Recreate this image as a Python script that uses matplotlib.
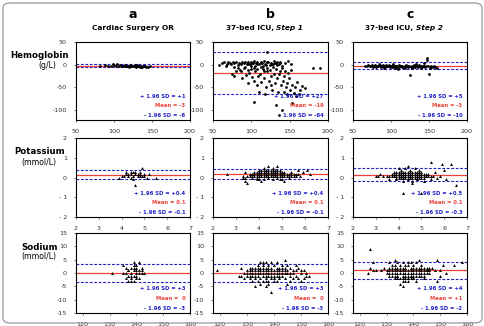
import matplotlib
matplotlib.use("Agg")
import matplotlib.pyplot as plt
from matplotlib.patches import FancyBboxPatch

# ---- data ----
# Hemoglobin (g/L): x = mean of methods, y = difference
hgb_a_x = [82, 88, 92, 96, 100, 103, 106, 108, 110, 112, 114, 116, 118, 120, 121, 123, 125, 126,
           128, 129, 131, 133, 135, 136, 138, 140, 142, 145, 147, 99, 104, 111, 119, 127, 134,
           115, 122, 130, 137, 141, 124, 132]
hgb_a_y = [-2, -1, -2, -3, -1, -2, -3, 0, -2, -4, -1, -3, -2, -5, -1, -3, -4, -2,
           0, -5, -3, -4, -2, -6, -3, -4, -5, -6, -3, 2, 1, -3, -4, -2, -5,
           -2, -2, -1, -5, -3, -3, -3]

hgb_b_x = [58, 62, 65, 68, 70, 72, 74, 76, 78, 80, 82, 84, 86, 88, 90, 92, 94, 96, 98, 100,
           102, 104, 106, 108, 110, 112, 114, 116, 118, 120, 122, 124, 126, 128, 130, 132, 134,
           136, 138, 140, 144, 148, 152,
           75, 78, 80, 85, 88, 90, 93, 95, 97, 99, 101, 103, 105, 107, 109, 111, 113, 115, 117,
           119, 121, 123, 125, 127, 129, 131, 133, 135, 137, 139, 141, 143, 145, 147, 149, 151,
           153, 155, 157, 160, 163, 166, 170, 158, 162,
           120, 180, 190, 103, 132, 136, 140, 153,
           92, 96, 100, 104, 108, 112, 116, 120, 124, 128, 132, 136, 140, 144, 148, 152,
           77, 83, 67, 86, 110, 118, 125, 142, 146,
           95, 101, 107, 113, 119, 125, 131, 137, 105, 115, 127, 133]
hgb_b_y = [0, 3, 5, 2, 7, 4, 1, 6, 3, 5, 0, 4, 2, 6, 3, 7, 1, 5, 2, 6,
           4, 8, 3, 5, 1, 6, 3, 9, 2, 5, 7, 0, 4, 2, 8, 3, 5,
           1, 6, -2, 4, 8, 1,
           -20, -25, -15, -12, -30, -8, -22, -40, -18, -10, -28, -35, -15, -45, -25, -20, -38, -10, -30,
           -50, -15, -35, -25, -55, -20, -40, -30, -60, -15, -45, -35, -25, -50, -40, -30, -55,
           -45, -62, -50, -38, -55, -48, -52, -70, -65,
           27, -8, -8, -82, -89, -111, -100, -84,
           -5, -12, -3, -8, -10, -6, -15, -8, -12, -5, -10, -20, -8, -15, -18, -12,
           -5, -8, -3, -15, -60, -65, -45, -60, -65,
           2, 4, 1, 3, 0, 2, 4, 3, -3, -2, 1, -1]

hgb_c_x = [66, 70, 74, 78, 82, 85, 88, 90, 92, 94, 96, 98, 100, 102, 104, 106, 108, 110, 112,
           114, 116, 118, 120, 122, 124, 126, 128, 130, 132, 134, 136, 138, 140, 142, 144,
           75, 80, 86, 91, 95, 99, 103, 107, 111, 115, 119, 123, 127, 131, 135, 139,
           84, 97, 109, 121, 133, 145, 152, 147, 148, 150, 125, 160, 143, 156,
           68, 72, 76, 79, 83, 87, 89, 93, 101, 105, 113, 117, 121, 129, 137, 141,
           146, 149, 151, 153, 155, 158]
hgb_c_y = [-2, -1, -3, -2, -4, -1, -3, -2, -5, -1, -3, -2, -4, -1, -6, -2, -3, -1, -4,
           -2, -5, -3, -1, -4, -2, -6, -3, -1, -4, -2, -5, -3, -2, -4, -3,
           0, -5, -4, -7, -3, -6, 1, -7, -5, -6, -8, -5, -7, -6, -4, -7,
           2, 0, -9, -2, 2, -5, -6, 15, 10, -20, -22, -8, 3, -4,
           -4, -2, -5, 0, -2, -5, 0, -3, -6, -3, -2, -6, -3, -5, -1, -6,
           -2, -4, -7, -3, -5, -6]

# Potassium (mmol/L)
k_a_x = [3.9, 4.0, 4.1, 4.2, 4.2, 4.3, 4.3, 4.4, 4.4, 4.5, 4.5, 4.5, 4.6, 4.6, 4.7, 4.7, 4.8,
         4.8, 4.9, 4.9, 5.0, 5.0, 5.1, 5.2, 4.6, 4.4, 4.8, 5.5]
k_a_y = [0.0, 0.1, 0.1, 0.2, 0.3, 0.2, 0.1, 0.3, 0.2, 0.1, 0.3, -0.1, 0.2, 0.3, 0.1, 0.2, 0.3,
         0.2, 0.5, 0.1, 0.2, 0.1, 0.0, 0.2, -0.4, 0.0, 0.1, 0.0]

k_b_x = [2.6, 3.3, 3.4, 3.5, 3.6, 3.7, 3.8, 3.9, 4.0, 4.1, 4.2, 4.3, 4.4, 4.5, 4.6, 4.7, 4.8, 4.9,
         5.0, 5.1, 5.2, 5.3, 5.4, 5.5, 5.6,
         3.6, 3.7, 3.8, 3.9, 4.0, 4.1, 4.2, 4.3, 4.4, 4.5, 4.6, 4.7, 4.8, 4.9, 5.0, 5.1, 5.2, 5.3,
         5.4, 5.5, 5.7,
         3.8, 3.9, 4.0, 4.1, 4.2, 4.3, 4.4, 4.5, 4.6, 4.7, 4.8, 4.9, 5.0, 5.1, 5.4,
         4.0, 4.1, 4.2, 4.3, 4.4, 4.5, 4.6, 4.7, 4.8, 4.9,
         4.2, 4.4, 4.6, 4.8,
         3.7, 3.9, 4.0, 4.2, 4.4, 4.6, 4.8, 5.0, 5.3, 5.6, 5.8,
         3.4, 3.5, 3.9, 4.1, 4.9, 5.1,
         3.3, 3.4, 6.1, 5.9, 5.7, 6.2]
k_b_y = [0.2, 0.1, 0.0, 0.1, 0.1, 0.1, 0.1, 0.1, 0.1, 0.1, 0.1, 0.1, 0.1, 0.1, 0.1, 0.1, 0.1, 0.1,
         0.1, 0.1, 0.1, 0.1, 0.1, 0.1, 0.1,
         0.2, 0.2, 0.2, 0.2, 0.2, 0.2, 0.2, 0.2, 0.2, 0.2, 0.2, 0.2, 0.2, 0.2, 0.2, 0.2, 0.2, 0.2,
         0.2, 0.2, 0.2,
         0.3, 0.3, 0.3, 0.3, 0.3, 0.3, 0.3, 0.3, 0.3, 0.3, 0.3, 0.3, 0.3, 0.3, 0.3,
         0.4, 0.4, 0.4, 0.4, 0.4, 0.4, 0.4, 0.4, 0.4, 0.4,
         0.5, 0.6, 0.5, 0.6,
         0.0, 0.0, -0.1, -0.1, 0.0, -0.1, 0.0, -0.1, 0.0, 0.2, 0.1,
         -0.2, -0.3, -0.1, -0.2, -0.1, -0.2,
         0.0, 0.3, 0.4, 0.3, 0.4, 0.2]

k_c_x = [3.0, 3.1, 3.2, 3.3, 3.5, 3.6, 3.7, 3.8, 3.9, 4.0, 4.1, 4.2, 4.3, 4.4, 4.5, 4.6, 4.7,
         4.8, 4.9, 5.0, 5.1, 5.2, 5.3, 5.4, 5.5,
         3.7, 3.8, 3.9, 4.0, 4.1, 4.2, 4.3, 4.4, 4.5, 4.6, 4.7, 4.8, 4.9, 5.0, 5.1, 5.2, 5.3,
         3.8, 3.9, 4.0, 4.1, 4.2, 4.3, 4.4, 4.5, 4.6, 4.7, 4.8, 4.9, 5.0,
         3.9, 4.0, 4.1, 4.2, 4.3, 4.4, 4.5, 4.6, 4.7, 4.8, 4.9, 5.0, 5.1,
         4.1, 4.3, 4.5, 4.7, 4.9,
         3.6, 3.9, 4.2, 4.4, 4.6, 4.8, 5.1, 5.4, 5.7,
         4.2, 4.6, 5.0, 4.0, 4.4,
         5.4, 5.6, 5.9, 6.0, 6.1, 6.3, 6.5, 5.8]
k_c_y = [0.1, 0.1, 0.2, 0.1, 0.1, 0.1, 0.1, 0.1, 0.1, 0.1, 0.1, 0.1, 0.1, 0.1, 0.1, 0.1, 0.1,
         0.1, 0.1, 0.1, 0.1, 0.1, 0.1, 0.1, 0.1,
         0.2, 0.2, 0.2, 0.2, 0.2, 0.2, 0.2, 0.2, 0.2, 0.2, 0.2, 0.2, 0.2, 0.2, 0.2, 0.2, 0.2,
         0.3, 0.3, 0.3, 0.3, 0.3, 0.3, 0.3, 0.3, 0.3, 0.3, 0.3, 0.3, 0.3,
         0.0, 0.0, 0.0, 0.0, 0.0, 0.0, 0.0, 0.0, 0.0, 0.0, 0.0, 0.0, 0.0,
         0.4, 0.5, 0.4, 0.5, 0.4,
         -0.1, -0.1, -0.2, -0.1, -0.2, -0.1, -0.2, -0.1, 0.0,
         -0.8, -0.3, -0.8, 0.5, 0.6,
         0.8, 0.3, 0.7, 0.4, -0.1, 0.7, -0.4, 0.1]

# Sodium (mmol/L)
na_a_x = [131, 135, 135, 136, 136, 136, 137, 137, 137, 138, 138, 138, 138, 139, 139, 139, 139, 139,
          140, 140, 140, 140, 140, 141, 141, 141, 141, 142, 142, 142, 143, 138, 139, 137, 140]
na_a_y = [0, 3, 0, 2, -2, 0, 1, -1, -3, 0, 2, -2, -3, 4, 3, 1, -1, -3,
          3, 2, 0, -1, -2, 4, 1, 0, -2, 2, 1, 0, 0, -1, 2, 1, 1]

na_b_x = [119, 127, 128, 128, 129, 129, 130, 130, 130, 131, 131, 131, 131, 132, 132, 132, 132,
          133, 133, 133, 133, 133, 134, 134, 134, 134, 134, 135, 135, 135, 135, 135, 135,
          136, 136, 136, 136, 136, 136, 137, 137, 137, 137, 137, 137, 137, 138, 138, 138, 138,
          138, 138, 138, 139, 139, 139, 139, 139, 139, 140, 140, 140, 140, 140, 141, 141, 141,
          141, 141, 142, 142, 142, 142, 143, 143, 143, 143, 144, 144, 144, 144, 145, 145, 145,
          146, 146, 146, 147, 147, 148, 148, 149, 149, 150, 150, 151, 151, 152, 152, 153,
          131, 132, 133, 134, 136, 137, 139, 140, 141, 142, 143, 144, 145, 146, 147, 148, 150]
na_b_y = [1, -1, 2, -1, 0, -2, 1, 0, -1, 2, 1, -1, -2, 2, 0, -1, -3,
          2, 1, 0, -2, -5, 3, 1, 0, -1, -3, 4, 2, 1, 0, -2, -4,
          4, 3, 1, 0, -1, -3, 4, 2, 1, 0, -1, -2, -5, 3, 2, 1, 0, -1, -3, -4,
          4, 2, 0, -1, -2, -7, 3, 1, 0, -1, -2, 4, 2, 1, -1, -3, 2, 1, 0, -2, 3, 1, 0, -1,
          5, 2, 0, -2, 3, 1, -4, 2, 0, -3, 1, -2, 3, -1, 2, -2, 0, -3, 1, -2, 0, -1, -1,
          0, 1, -1, 2, 2, -3, 1, -3, 0, -1, 2, 1, 0, -1, 0, 1, 1]

na_c_x = [123, 124, 124, 125, 125, 126, 128, 129, 130, 130, 131, 131, 131, 132, 132, 132, 132,
          133, 133, 133, 133, 133, 134, 134, 134, 134, 134, 135, 135, 135, 135, 135, 135,
          136, 136, 136, 136, 136, 136, 137, 137, 137, 137, 137, 138, 138, 138, 138, 138,
          139, 139, 139, 139, 139, 140, 140, 140, 140, 140, 141, 141, 141, 141, 142, 142, 142,
          142, 143, 143, 143, 144, 144, 144, 145, 145, 145, 146, 146, 147, 148, 149, 149, 150,
          150, 151, 152, 155, 158,
          131, 132, 133, 134, 135, 136, 137, 138, 139, 140, 141, 142, 143, 144, 145, 146,
          131, 133, 134, 136, 137, 138, 139, 140, 141, 143, 144]
na_c_y = [0, 9, 2, 1, 4, 1, 1, 2, 0, 1, 4, 1, 0, 3, 2, 0, -1,
          5, 3, 1, 0, -2, 4, 2, 1, 0, -1, 3, 2, 1, 0, -2, -4,
          4, 2, 1, 0, -2, -5, 3, 2, 1, 0, -3, 4, 3, 1, 0, -2,
          4, 2, 1, 0, -1, 3, 2, 1, 0, -1, 4, 2, 1, 0, 5, 2, 1, 0,
          3, 1, 0, 2, 1, 0, 2, 1, 0, 1, 0, 2, 1, 5, -3, 1, -1, 3, 0, 3, 4,
          2, 1, 2, -1, 1, -1, -1, -1, -1, -2, -1, -1, 2, -1, 1, 2,
          -1, -1, -2, -3, -2, -3, -2, -2, -3, -1, -2]

col_letters = ["a", "b", "c"]
col_titles = ["Cardiac Surgery OR", "37-bed ICU, ", "37-bed ICU, "]
col_steps = ["", "Step 1", "Step 2"]
row_names = ["Hemoglobin", "Potassium", "Sodium"]
row_units = ["(g/L)", "(mmol/L)", "(mmol/L)"]

# limits of agreement per panel (row, col): upper, mean, lower
upper = [[1, 27, 5], [0.4, 0.45, 0.5], [3.3, 3.3, 4.3]]
mean = [[-3, -19, -3], [0.15, 0.2, 0.15], [0, 0, 1]]
lower = [[-6, -64, -10], [-0.1, -0.1, -0.2], [-3.2, -3.2, -2.3]]
up_txt = [["+1", "+27", "+5"], ["+0.4", "+0.4", "+0.5"], ["+3", "+3", "+4"]]
mean_txt = [["-3", "-19", "-3"], ["0.1", "0.1", "0.1"], [" 0", " 0", "+1"]]
lo_txt = [["-6", "-64", "-10"], ["-0.1", "-0.1", "-0.3"], ["-3", "-3", "-2"]]

xlims = [(50, 200), (2, 7), (117.5, 160)]
ylims = [(-122, 50), (-2, 2), (-15, 15)]
xticks = [[50, 100, 150, 200], [2, 3, 4, 5, 6, 7], [120, 130, 140, 150, 160]]
yticks = [[-100, -50, 0, 50], [-2, -1, 0, 1, 2], [-15, -10, -5, 0, 5, 10, 15]]
ytick_labels = [["-100", "-50", "0", "50"], ["- 2", "- 1", "0", "1", "2"],
                ["-15", "-10", "-5", "0", "5", "10", "15"]]

points = [[(hgb_a_x, hgb_a_y), (hgb_b_x, hgb_b_y), (hgb_c_x, hgb_c_y)],
          [(k_a_x, k_a_y), (k_b_x, k_b_y), (k_c_x, k_c_y)],
          [(na_a_x, na_a_y), (na_b_x, na_b_y), (na_c_x, na_c_y)]]

W, H = 485, 326
fig = plt.figure(figsize=(W / 100, H / 100), dpi=100)
fig.patches.append(FancyBboxPatch((3 / W, 3 / H), 479 / W, 320 / H,
                                  boxstyle="round,pad=0,rounding_size=0.015",
                                  transform=fig.transFigure, fill=False,
                                  edgecolor="#9a9a9a", linewidth=0.9))

col_px = [(76, 190), (213, 328), (353, 467)]
row_px = [(42, 120), (138, 217), (233, 313)]
blue = "#1f1fc8"
red = "#e8413a"

for r in range(3):
    for c in range(3):
        x0, x1 = col_px[c]
        y0, y1 = row_px[r]
        ax = fig.add_axes([x0 / W, 1 - y1 / H, (x1 - x0) / W, (y1 - y0) / H])
        xs, ys = points[r][c]
        marker = "o" if r == 0 else "^"
        ax.scatter(xs, ys, s=4 if r == 0 else 4.5, marker=marker, c="black",
                   linewidths=0, zorder=3)
        ax.axhline(upper[r][c], color=blue, lw=0.8, ls=(0, (2.5, 1.5)), zorder=2)
        ax.axhline(lower[r][c], color=blue, lw=0.8, ls=(0, (2.5, 1.5)), zorder=2)
        ax.axhline(mean[r][c], color=red, lw=0.9, zorder=2)
        ax.set_xlim(*xlims[r])
        ax.set_ylim(*ylims[r])
        ax.set_xticks(xticks[r])
        ax.set_yticks(yticks[r])
        ax.set_yticklabels(ytick_labels[r])
        ax.tick_params(labelsize=4.6, length=1.5, width=0.5, pad=5, colors="#333333")
        for s in ax.spines.values():
            s.set_linewidth(0.8)
        ax.text(0.96, 0.3, "+ 1.96 SD = " + up_txt[r][c], transform=ax.transAxes,
                ha="right", va="center", fontsize=3.8, color=blue, fontweight="bold")
        ax.text(0.96, 0.18, "Mean = " + mean_txt[r][c], transform=ax.transAxes,
                ha="right", va="center", fontsize=3.8, color=red, fontweight="bold")
        ax.text(0.96, 0.06, "- 1.96 SD = " + lo_txt[r][c], transform=ax.transAxes,
                ha="right", va="center", fontsize=3.8, color=blue, fontweight="bold")

# column headers
for c in range(3):
    cx = (col_px[c][0] + col_px[c][1]) / 2 / W
    fig.text(cx, 1 - 14 / H, col_letters[c], ha="center", va="center",
             fontsize=9, fontweight="bold")
    if col_steps[c]:
        fig.text(cx + 0.012, 1 - 28 / H, col_titles[c], ha="right", va="center",
                 fontsize=5.3, fontweight="bold")
        fig.text(cx + 0.012, 1 - 28 / H, col_steps[c], ha="left", va="center",
                 fontsize=5.3, fontweight="bold", style="italic")
    else:
        fig.text(cx, 1 - 28 / H, col_titles[c], ha="center", va="center",
                 fontsize=5.3, fontweight="bold")

# row labels
for r in range(3):
    ty = row_px[r][0] + 14
    fig.text(40 / W, 1 - ty / H, row_names[r], ha="center", va="center",
             fontsize=6.2, fontweight="bold")
    fig.text(56 / W, 1 - (ty + 10) / H, row_units[r], ha="right", va="center",
             fontsize=5.6)

fig.savefig("out.png", dpi=100)
